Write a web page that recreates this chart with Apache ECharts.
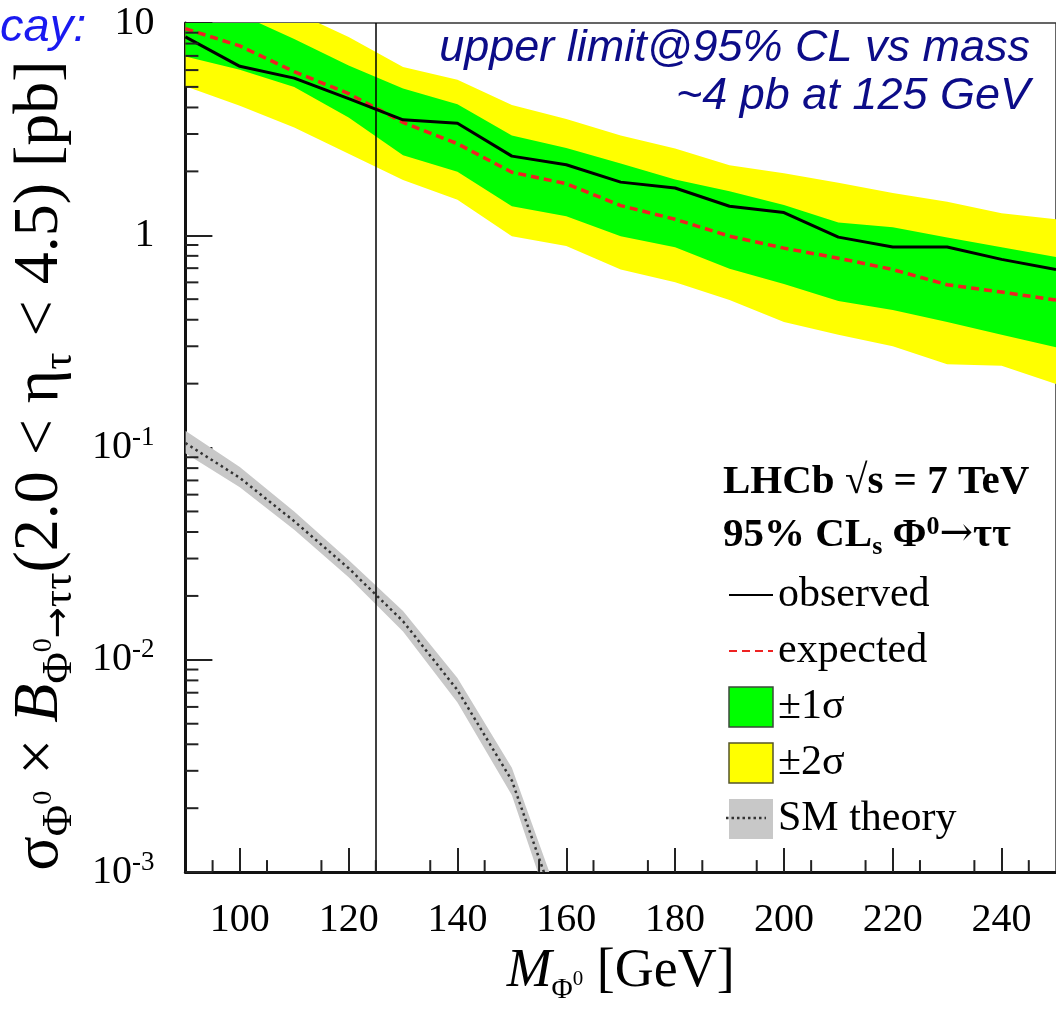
<!DOCTYPE html>
<html>
<head>
<meta charset="utf-8">
<script src="https://cdn.jsdelivr.net/npm/echarts@6/dist/echarts.min.js"></script>
<style>
  html, body { margin: 0; padding: 0; background: #fff; }
  #chart { width: 1056px; height: 1010px; }
</style>
</head>
<body>
<div id="chart"></div>
<script>
// mass points [GeV]
const masses = [90, 100, 110, 120, 130, 140, 150, 160, 170, 180, 190, 200, 210, 220, 230, 240, 250];
// 95% CL upper limits [pb]
const observed = [8.6, 6.25, 5.5, 4.4, 3.5, 3.37, 2.36, 2.15, 1.78, 1.67, 1.37, 1.28, 0.98, 0.88, 0.88, 0.77, 0.69];
const expected = [9.4, 7.8, 5.9, 4.65, 3.4, 2.7, 1.98, 1.75, 1.38, 1.19, 0.99, 0.87, 0.78, 0.69, 0.585, 0.54, 0.495];
const oneSigmaUp = [13.5, 11.0, 8.4, 6.3, 4.92, 4.14, 2.95, 2.58, 2.18, 1.83, 1.61, 1.39, 1.15, 1.09, 0.975, 0.877, 0.79];
const oneSigmaDown = [6.95, 6.03, 4.99, 3.59, 2.38, 1.99, 1.37, 1.23, 0.99, 0.877, 0.695, 0.59, 0.49, 0.445, 0.39, 0.34, 0.297];
const twoSigmaUp = [17, 14, 11.3, 8.6, 6.2, 5.41, 4.11, 3.53, 2.95, 2.56, 2.14, 1.96, 1.77, 1.58, 1.44, 1.27, 1.19];
const twoSigmaDown = [5.04, 4.07, 3.22, 2.42, 1.82, 1.47, 0.99, 0.89, 0.69, 0.6, 0.495, 0.39, 0.34, 0.3, 0.247, 0.243, 0.199];
// SM theory prediction
const smMasses = [90, 100, 110, 120, 130, 140, 150, 160];
const smTheory = [0.105, 0.072, 0.045, 0.027, 0.0152, 0.0072, 0.0027, 0.0005];
const smUp = [0.12, 0.081, 0.05, 0.0295, 0.017, 0.0082, 0.0031, 0.0006];
const smDown = [0.094, 0.065, 0.041, 0.0245, 0.0136, 0.0063, 0.0023, 0.0004];
const higgsMass = 125;
// minor ticks
const xMinorTicks = [95, 105, 115, 125, 135, 145, 155, 165, 175, 185, 195, 205, 215, 225, 235, 245];
const yMinorSteps = [2, 3, 4, 5, 6, 7, 8, 9];
const yDecades = [0.001, 0.01, 0.1, 1];

const serif = "'Liberation Serif', 'DejaVu Serif', serif";
const sans = "'Liberation Sans', 'DejaVu Sans', sans-serif";

const pairs = (xs, ys) => xs.map((x, i) => [x, ys[i]]);

// filled band between lo and up, drawn as one polygon through the axes
function band(name, xs, lo, up, color) {
  return {
    name: name, type: 'custom', silent: true, color: color,
    data: [[xs[0], lo[0]]],
    renderItem: (params, api) => {
      const top = xs.map((x, i) => api.coord([x, up[i]]));
      const bottom = xs.map((x, i) => api.coord([x, lo[i]])).reverse();
      const cs = params.coordSys;
      return {
        type: 'polygon',
        shape: { points: top.concat(bottom) },
        style: { fill: color },
        clipPath: { type: 'rect', shape: { x: cs.x, y: cs.y, width: cs.width, height: cs.height } }
      };
    }
  };
}

const yMinor = [];
yDecades.forEach(d => yMinorSteps.forEach(s => yMinor.push([masses[0], s * d])));

const chart = echarts.init(document.getElementById('chart'));
chart.setOption({
  animation: false,
  textStyle: { fontFamily: serif },
  grid: {
    left: 184, top: 21, width: 874.5, height: 860,
    show: true, borderColor: '#333', borderWidth: 1.5, backgroundColor: 'transparent'
  },
  xAxis: {
    type: 'value', min: 90, max: 250, splitNumber: 8,
    axisLine: { lineStyle: { color: '#111', width: 3 } },
    axisTick: { inside: true, length: 24, lineStyle: { color: '#222', width: 2 } },
    axisLabel: { showMinLabel: false, showMaxLabel: false, fontSize: 40, color: '#000', margin: 28, fontFamily: serif },
    splitLine: { show: false },
    name: '{i|M}{sb|Φ}{sp|0}{t| [GeV]}',
    nameLocation: 'middle', nameGap: 59,
    nameTextStyle: {
      color: '#000', fontFamily: serif,
      rich: {
        t: { fontSize: 54, lineHeight: 66, fontFamily: serif, color: '#000' },
        i: { fontSize: 54, lineHeight: 66, fontStyle: 'italic', fontFamily: serif, color: '#000' },
        sb: { fontSize: 29, lineHeight: 29, verticalAlign: 'bottom', fontFamily: serif, color: '#000' },
        sp: { fontSize: 21, lineHeight: 21, verticalAlign: 'bottom', padding: [0, 0, 15, 0], fontFamily: serif, color: '#000' }
      }
    }
  },
  yAxis: {
    type: 'log', logBase: 10, min: 0.001, max: 10,
    axisLine: { show: true, lineStyle: { color: '#111', width: 3 } },
    axisTick: { inside: true, length: 27, lineStyle: { color: '#222', width: 2 } },
    minorTick: { show: false },
    splitLine: { show: false },
    axisLabel: {
      fontSize: 40, color: '#000', margin: 31, fontFamily: serif, lineHeight: 46,
      formatter: v => {
        const e = Math.round(Math.log10(v));
        if (e === 0) return '1';
        if (e === 1) return '10';
        return '10{sup|' + e + '}';
      },
      rich: { sup: { fontSize: 27, lineHeight: 21, verticalAlign: 'top', fontFamily: serif, color: '#000' } }
    },
    name: '{t|σ}{sb|Φ}{sp|0}{t| × }{it|B}{sb|Φ}{sp|0}{ar|→}{sb|ττ}{t|(2.0 < η}{sb|τ}{t| < 4.5) [pb]}',
    nameLocation: 'middle', nameGap: 53, nameRotate: 90,
    nameTextStyle: {
      color: '#000', fontFamily: serif, padding: [0, 36, 0, 0],
      rich: {
        t: { fontSize: 64, lineHeight: 82, fontFamily: serif, color: '#000' },
        it: { fontSize: 64, lineHeight: 82, fontStyle: 'italic', fontFamily: serif, color: '#000' },
        sb: { fontSize: 43, lineHeight: 43, verticalAlign: 'bottom', fontFamily: serif, color: '#000' },
        ar: { fontSize: 37, lineHeight: 37, verticalAlign: 'bottom', padding: [0, 0, 3, 0], fontFamily: "'DejaVu Sans', sans-serif", color: '#000' },
        sp: { fontSize: 28, lineHeight: 28, verticalAlign: 'bottom', padding: [0, 0, 23, 0], fontFamily: serif, color: '#000' }
      }
    }
  },
  legend: {
    orient: 'vertical', left: 723, top: 569,
    itemWidth: 44, itemHeight: 40, itemGap: 14,
    selectedMode: false,
    textStyle: { fontFamily: serif, fontSize: 42, lineHeight: 40, color: '#000' },
    data: [
      { name: 'observed', itemStyle: { opacity: 0 } },
      { name: 'expected', itemStyle: { opacity: 0 } },
      { name: '±1σ', icon: 'rect', itemStyle: { color: '#00ff00', borderColor: '#3b4a3b', borderWidth: 1.5 } },
      { name: '±2σ', icon: 'rect', itemStyle: { color: '#ffff00', borderColor: '#55552a', borderWidth: 1.5 } },
      { name: 'SM theory', icon: 'rect', itemStyle: { color: '#c8c8c8' } }
    ]
  },
  graphic: [
    {
      type: 'text', left: 0, top: 4, z: 100,
      style: { text: 'cay:', font: 'italic 47px ' + sans, fill: '#1a1af0' }
    },
    {
      type: 'text', right: 26, top: 26, z: 100,
      style: { text: 'upper limit@95% CL vs mass', font: 'italic 45px ' + sans, fill: '#0c0c88' }
    },
    {
      type: 'text', right: 26, top: 74, z: 100,
      style: { text: '~4 pb at 125 GeV', font: 'italic 45px ' + sans, fill: '#0c0c88' }
    },
    {
      type: 'text', left: 723, top: 462, z: 100,
      style: { text: 'LHCb √s = 7 TeV', font: 'bold 41px ' + serif, fill: '#000' }
    },
    {
      type: 'text', left: 723, top: 510, z: 100,
      style: {
        text: '{m|95% CL}{sb|s}{m| Φ}{sp|0}{ar|→}{m|ττ}', fill: '#000',
        rich: {
          m: { fontSize: 41, fontWeight: 'bold', fontFamily: serif, lineHeight: 50, fill: '#000' },
          ar: { fontSize: 40, fontFamily: "'DejaVu Serif', serif", lineHeight: 50, fill: '#000' },
          sb: { fontSize: 26, fontWeight: 'bold', fontFamily: serif, lineHeight: 26, verticalAlign: 'bottom', fill: '#000' },
          sp: { fontSize: 26, fontWeight: 'bold', fontFamily: serif, lineHeight: 26, verticalAlign: 'top', padding: [4, 0, 0, 0], fill: '#000' }
        }
      }
    },
    {
      type: 'line', z: 100,
      shape: { x1: 726, y1: 818, x2: 766, y2: 818 },
      style: { stroke: '#333', lineWidth: 2.5, lineDash: [2.5, 3] }
    }
  ],
  series: [
    band('±2σ', masses, twoSigmaDown, twoSigmaUp, '#ffff00'),
    band('±1σ', masses, oneSigmaDown, oneSigmaUp, '#00ff00'),
    band('SM theory', smMasses, smDown, smUp, '#c8c8c8'),
    {
      name: 'SM line', type: 'line', data: pairs(smMasses, smTheory), symbol: 'none',
      lineStyle: { color: '#333', width: 2.5, type: [2.5, 3.5] }, silent: true
    },
    {
      name: 'expected', type: 'line', data: pairs(masses, expected), symbol: 'none',
      color: '#ee2222', lineStyle: { color: '#ee2222', width: 3.5, type: [8, 5] }
    },
    {
      name: 'observed', type: 'line', data: pairs(masses, observed), symbol: 'none',
      color: '#000', lineStyle: { color: '#000', width: 3 },
      markLine: {
        silent: true, symbol: 'none', label: { show: false },
        lineStyle: { color: '#000', width: 1.5, type: 'solid' },
        data: [{ xAxis: higgsMass }]
      }
    },
    {
      name: 'y minor ticks', type: 'custom', z: 10, silent: true, data: yMinor,
      renderItem: (params, api) => {
        const p = api.coord([api.value(0), api.value(1)]);
        return { type: 'line', shape: { x1: p[0], y1: p[1], x2: p[0] + 13, y2: p[1] }, style: { stroke: '#222', lineWidth: 2 } };
      }
    },
    {
      name: 'x minor ticks', type: 'custom', z: 10, silent: true,
      data: xMinorTicks.map(m => [m, 0.001]),
      renderItem: (params, api) => {
        const p = api.coord([api.value(0), api.value(1)]);
        return { type: 'line', shape: { x1: p[0], y1: p[1], x2: p[0], y2: p[1] - 12 }, style: { stroke: '#222', lineWidth: 2 } };
      }
    }
  ]
});
</script>
</body>
</html>
